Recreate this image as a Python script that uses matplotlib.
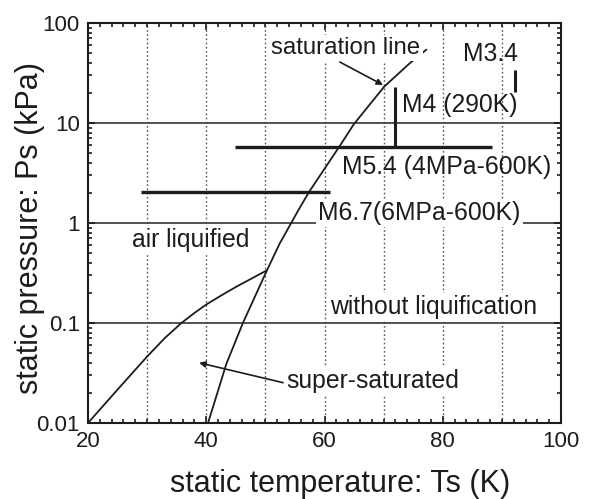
import matplotlib
matplotlib.use('Agg')
import matplotlib.pyplot as plt
from matplotlib.ticker import MultipleLocator, FixedLocator, FixedFormatter, LogLocator, NullFormatter

plt.rcParams['font.family'] = ['Liberation Sans', 'DejaVu Sans']

# 飽和線 (静温 K, 静圧 kPa)
sat_T = [40.3, 43.4, 46.2, 50.2, 52.4, 55.6, 57.4, 62.5, 65.0, 70.1, 74.4, 77.2]
sat_P = [0.010, 0.039, 0.10, 0.33, 0.62, 1.35, 2.05, 5.8, 9.8, 23.1, 39.5, 54.0]

# 液化境界線
liq_T = [20, 25, 30, 33, 35.8, 38, 40, 42.5, 45, 47.5, 50.2]
liq_P = [0.010, 0.0216, 0.0462, 0.0708, 0.10, 0.126, 0.153, 0.188, 0.229, 0.275, 0.335]

# 各風洞条件: 横線 (M5.4, M6.7) と縦線 (M4, M3.4)
run_P = [5.8, 2.06]
run_T0 = [44.9, 29.0]
run_T1 = [88.4, 61.0]
bar_T = [72.0, 92.3]
bar_P0 = [5.8, 20.6]
bar_P1 = [22.9, 33.9]

x_ticks = [20, 40, 60, 80, 100]
y_ticks = [0.01, 0.1, 1, 10, 100]
y_labels = ['0.01', '0.1', '1', '10', '100']

ink = '#1c1c1c'

fig = plt.figure(figsize=(5.91, 4.99), dpi=100)
ax = fig.add_axes([88 / 591, 1 - 423 / 499, 473 / 591, 400 / 499])
ax.set_yscale('log')
ax.set_xlim(20, 100)
ax.set_ylim(0.01, 100)

# グリッド: 縦は点線, 横は実線
for t in range(30, 100, 10):
    ax.axvline(t, color='#555555', lw=1.0, ls=(0, (1.2, 1.8)), zorder=1)
for p in [0.1, 1, 10]:
    ax.axhline(p, color='#444444', lw=1.3, zorder=1)

ax.plot(sat_T, sat_P, color=ink, lw=1.3, zorder=3)
ax.plot(liq_T, liq_P, color=ink, lw=1.3, zorder=3)

for p, t0, t1 in zip(run_P, run_T0, run_T1):
    ax.plot([t0, t1], [p, p], color=ink, lw=2.4, solid_capstyle='butt', zorder=3)
for t, p0, p1 in zip(bar_T, bar_P0, bar_P1):
    ax.plot([t, t], [p0, p1], color=ink, lw=2.2, solid_capstyle='butt', zorder=3)

box = dict(facecolor='white', edgecolor='none', pad=1.5)
fs = 17.8
ax.text(51.0, 56, 'saturation line', fontsize=17.3, color=ink, va='center', bbox=box, zorder=4)
ax.text(83.5, 49, 'M3.4', fontsize=fs, color=ink, va='center', zorder=4)
ax.text(73.05, 15.1, 'M4 (290K)', fontsize=fs, color=ink, va='center', zorder=4)
ax.text(62.9, 3.66, 'M5.4 (4MPa-600K)', fontsize=fs, color=ink, va='center', zorder=4)
ax.text(58.95, 1.25, 'M6.7(6MPa-600K)', fontsize=fs, color=ink, va='center', bbox=box, zorder=4)
ax.text(27.4, 0.676, 'air liquified', fontsize=fs, color=ink, va='center', bbox=box, zorder=2)
ax.text(60.9, 0.1445, 'without liquification', fontsize=fs, color=ink, va='center', bbox=box, zorder=2)
ax.text(53.6, 0.0263, 'super-saturated', fontsize=fs, color=ink, va='center', bbox=box, zorder=2)

arrow = dict(arrowstyle='-|>', color=ink, lw=1.2, mutation_scale=9, shrinkA=0, shrinkB=0)
ax.annotate('', xy=(69.9, 24.0), xytext=(62.6, 40.7), arrowprops=arrow, zorder=5)
ax.annotate('', xy=(38.8, 0.040), xytext=(53.0, 0.0253), arrowprops=arrow, zorder=5)

# 目盛り
ax.xaxis.set_major_locator(FixedLocator(x_ticks))
ax.xaxis.set_minor_locator(MultipleLocator(2))
ax.yaxis.set_major_locator(FixedLocator(y_ticks))
ax.yaxis.set_major_formatter(FixedFormatter(y_labels))
ax.yaxis.set_minor_locator(LogLocator(base=10, subs=range(2, 10)))
ax.yaxis.set_minor_formatter(NullFormatter())
ax.tick_params(which='both', direction='in', top=True, right=True, colors=ink, width=1.2)
ax.tick_params(which='major', length=5, labelsize=16, pad=6)
ax.tick_params(which='minor', length=3)
for s in ax.spines.values():
    s.set_linewidth(1.5)
    s.set_color(ink)

ax.set_xlabel('static temperature: Ts (K)', fontsize=22, color=ink)
ax.xaxis.set_label_coords(0.533, -0.115)
ax.set_ylabel('static pressure: Ps (kPa)', fontsize=22, color=ink)
ax.yaxis.set_label_coords(-0.09, 0.4875)

fig.savefig('out.png', dpi=100)
